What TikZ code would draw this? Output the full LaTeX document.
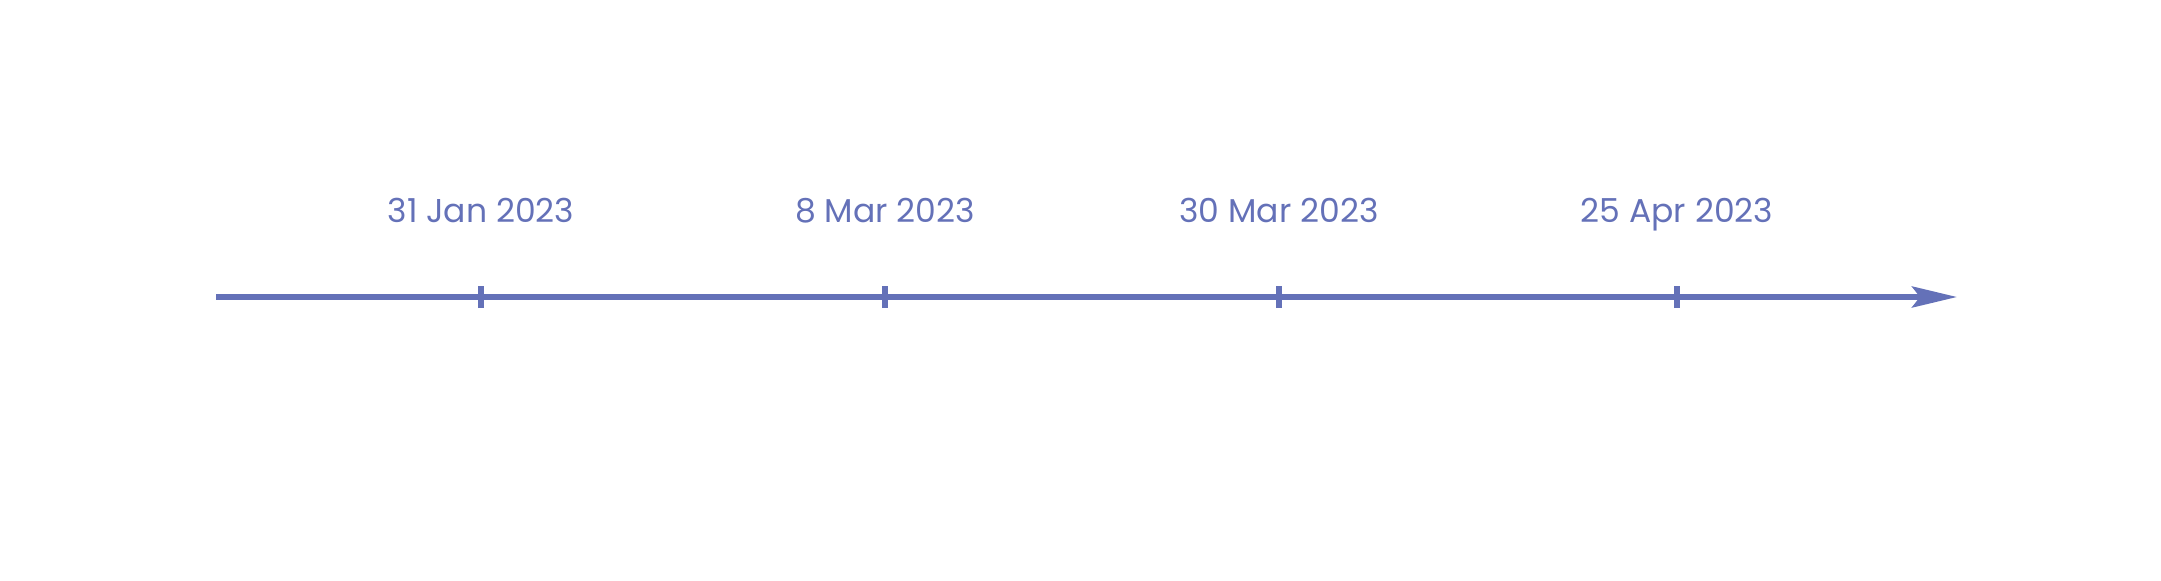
\documentclass[tikz,border=0pt]{standalone}
\usepackage{fontspec}
\setmainfont{Poppins}
\usetikzlibrary{arrows.meta}
\definecolor{axisblue}{RGB}{100,113,184}

\begin{document}
\begin{tikzpicture}[x=0.5pt,y=0.5pt,
    datelabel/.style={text=axisblue, font=\fontsize{16.5}{20}\selectfont, anchor=base, inner sep=0pt},
    tickmark/.style={draw=axisblue, line width=3.3pt}]
  \useasboundingbox (0,0) rectangle (2161,580);
  \coordinate (start) at (216,283);
  \coordinate (tip) at (1957,283);
  \draw [axisblue, line width=2.8pt, -{Stealth[length=22.5pt, width=10.5pt, inset=4pt]}] (start) -- (tip);

  \coordinate (jan) at (481,283);
  \coordinate (mar) at (885,283);
  \coordinate (mart) at (1279,283);
  \coordinate (apr) at (1677,283);

  \draw [tickmark] ([yshift=-5.5pt]jan) -- ([yshift=5.5pt]jan);
  \draw [tickmark] ([yshift=-5.5pt]mar) -- ([yshift=5.5pt]mar);
  \draw [tickmark] ([yshift=-5.5pt]mart) -- ([yshift=5.5pt]mart);
  \draw [tickmark] ([yshift=-5.5pt]apr) -- ([yshift=5.5pt]apr);

  \node [datelabel] (janlabel) at ([yshift=37.5pt]jan) {31 Jan 2023};
  \node [datelabel] (marlabel) at ([yshift=37.5pt]mar) {8 Mar 2023};
  \node [datelabel] (martlabel) at ([yshift=37.5pt]mart) {30 Mar 2023};
  \node [datelabel] (aprlabel) at ([yshift=37.5pt]apr) {25 Apr 2023};
\end{tikzpicture}
\end{document}
